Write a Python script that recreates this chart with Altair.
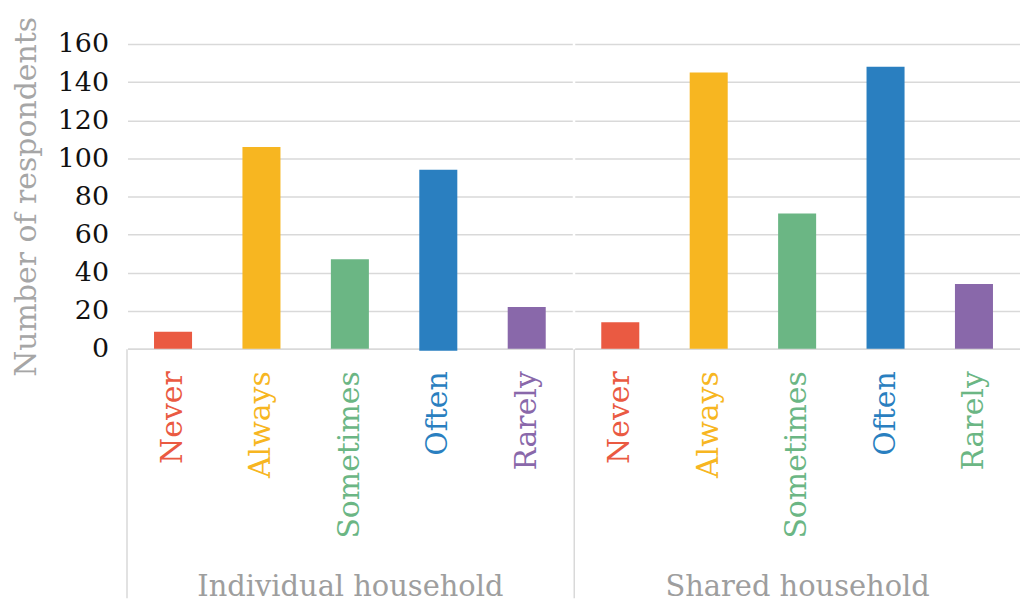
import altair as alt
import pandas as pd

categories = ["Never", "Always", "Sometimes", "Often", "Rarely"]
groups = ["Individual household", "Shared household"]
individual_values = [9, 106, 47, 94, 22]
shared_values = [14, 145, 71, 148, 34]
individual_base = [0, 0, 0, -1, 0]
shared_base = [0, 0, 0, 0, 0]
bar_colors = ["#EA5A42", "#F7B621", "#6BB684", "#2A7FC0", "#8968AA"]
individual_label_colors = ["#EA5A42", "#F7B621", "#6BB684", "#2A7FC0", "#8968AA"]
shared_label_colors = ["#EA5A42", "#F7B621", "#6BB684", "#2A7FC0", "#6BB684"]
y_ticks = [0, 20, 40, 60, 80, 100, 120, 140, 160]

FONT = "DejaVu Serif"
GRID = "#d9d9d9"
PAD_INNER = 0.57
PAD_OUTER = 0.3
# place the separator tick at the left edge of the range (before outer padding)
SEP_BAND = -PAD_OUTER / (1 - PAD_INNER)


def panel(group, values, base, label_colors, show_y):
    df = pd.DataFrame({"category": categories, "value": values, "base": base})
    label_cond = [
        {"test": f"datum.value === '{c}'", "value": col}
        for c, col in zip(categories, label_colors)
    ]
    x_axis = alt.Axis(
        title=group,
        titleFont=FONT,
        titleFontSize=29,
        titleFontWeight="normal",
        titleColor="#9e9e9e",
        titleBaseline="alphabetic",
        titleY=248,
        labelAngle=270,
        labelAlign="right",
        labelBaseline="middle",
        labelFont=FONT,
        labelFontSize=30,
        labelPadding=-228,
        labelColor={"condition": label_cond, "value": "#000000"},
        ticks=True,
        tickSize=250,
        tickWidth=1.5,
        bandPosition=SEP_BAND,
        tickColor={
            "condition": {"test": f"datum.value === '{categories[0]}'", "value": GRID},
            "value": "transparent",
        },
        domainColor=GRID,
        domainWidth=1.5,
        grid=False,
    )
    if show_y:
        y_axis = alt.Axis(
            values=y_ticks,
            title="Number of respondents",
            titleFont=FONT,
            titleFontSize=30,
            titleFontWeight="normal",
            titleColor="#a6a6a6",
            titlePadding=16,
            labelFont=FONT,
            labelFontSize=27,
            labelColor="#111111",
            labelPadding=19,
            ticks=False,
            domain=False,
            grid=True,
            gridColor=GRID,
            gridWidth=1.5,
        )
    else:
        y_axis = alt.Axis(
            values=y_ticks,
            title=None,
            labels=False,
            ticks=False,
            domain=False,
            grid=True,
            gridColor=GRID,
            gridWidth=1.5,
        )
    return (
        alt.Chart(df)
        .mark_bar()
        .encode(
            x=alt.X(
                "category:N",
                sort=categories,
                scale=alt.Scale(paddingInner=PAD_INNER, paddingOuter=PAD_OUTER),
                axis=x_axis,
            ),
            y=alt.Y("value:Q", scale=alt.Scale(domain=[0, 160], nice=False), axis=y_axis),
            y2="base:Q",
            color=alt.Color(
                "category:N",
                scale=alt.Scale(domain=categories, range=bar_colors),
                legend=None,
            ),
        )
        .properties(width=446.5, height=306)
    )


left = panel(groups[0], individual_values, individual_base, individual_label_colors, True)
right = panel(groups[1], shared_values, shared_base, shared_label_colors, False)

chart = (
    alt.hconcat(left, right, spacing=0)
    .resolve_scale(color="shared")
    .properties(padding={"left": 11, "top": 15, "right": 0, "bottom": 0}, background="white")
    .configure_view(stroke="transparent", strokeWidth=0)
)

chart.save("out.html", embed_options={"renderer": "svg", "actions": False})
